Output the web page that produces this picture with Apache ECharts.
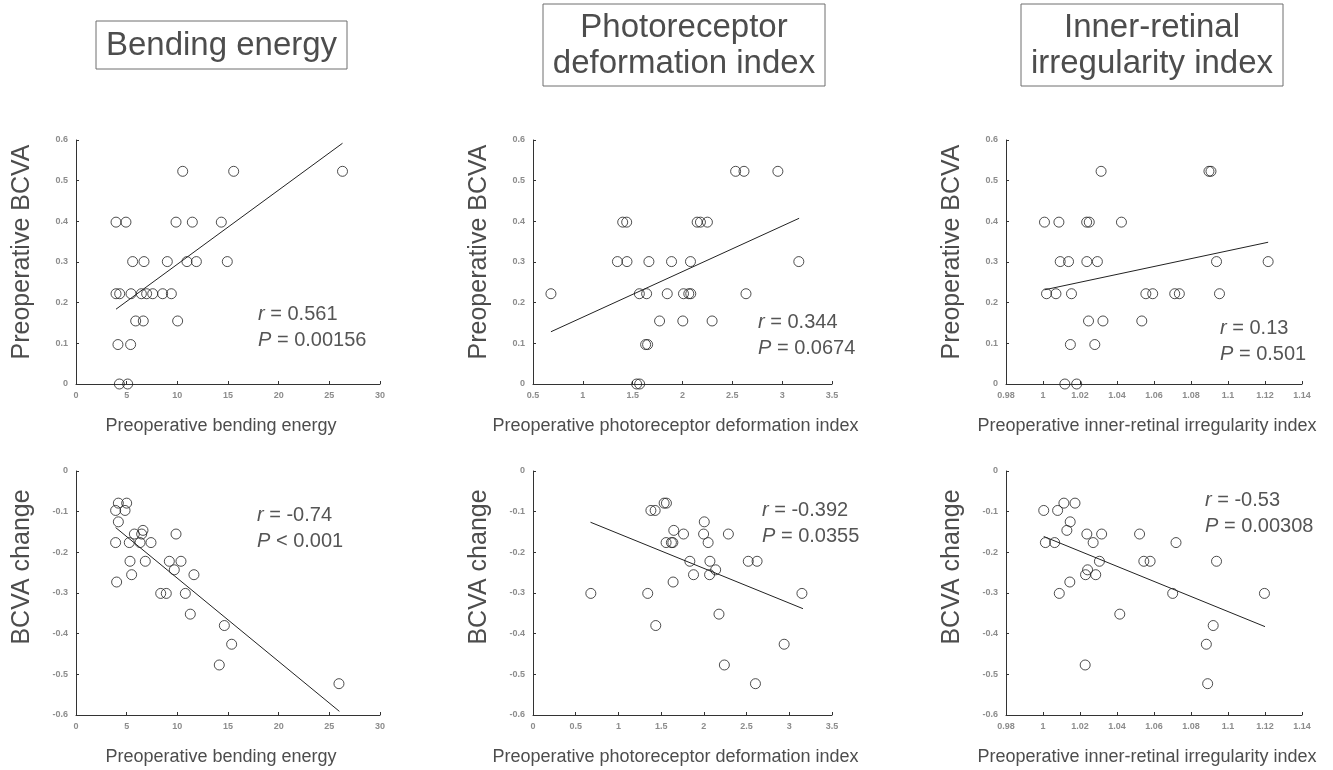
<!DOCTYPE html>
<html>
<head>
<meta charset="utf-8">
<title>BCVA correlations</title>
<script src="https://cdn.jsdelivr.net/npm/echarts@6/dist/echarts.min.js"></script>
<style>
  html, body { margin: 0; padding: 0; background: #fff; }
  #main { width: 1333px; height: 770px; }
</style>
</head>
<body>
<div id="main"></div>
<script>
// ---- data ----
// top row: preoperative BCVA, bottom row: BCVA change
var bendPre = [[10.53,0.523],[15.56,0.523],[26.3,0.523],
  [3.95,0.398],[4.93,0.398],[9.87,0.398],[11.48,0.398],[14.34,0.398],
  [5.59,0.301],[6.71,0.301],[9.01,0.301],[10.95,0.301],[11.88,0.301],[14.93,0.301],
  [3.95,0.222],[4.31,0.222],[5.43,0.222],[6.45,0.222],[6.97,0.222],[7.57,0.222],[8.55,0.222],[9.41,0.222],
  [5.89,0.155],[6.64,0.155],[10.03,0.155],
  [4.14,0.097],[5.39,0.097],
  [4.28,0],[5.10,0]];
var photoPre = [[2.533,0.523],[2.617,0.523],[2.957,0.523],
  [1.40,0.398],[1.44,0.398],[2.147,0.398],[2.18,0.398],[2.25,0.398],
  [1.347,0.301],[1.443,0.301],[1.663,0.301],[1.89,0.301],[2.08,0.301],[3.167,0.301],
  [0.68,0.222],[1.567,0.222],[1.64,0.222],[1.847,0.222],[2.01,0.222],[2.063,0.222],[2.083,0.222],[2.637,0.222],
  [1.77,0.155],[2.003,0.155],[2.297,0.155],
  [1.63,0.097],[1.65,0.097],
  [1.54,0],[1.57,0]];
var innerPre = [[1.0314,0.523],[1.0897,0.523],[1.0908,0.523],
  [1.0008,0.398],[1.0086,0.398],[1.0236,0.398],[1.025,0.398],[1.0424,0.398],
  [1.0093,0.301],[1.0138,0.301],[1.0237,0.301],[1.0294,0.301],[1.0938,0.301],[1.1217,0.301],
  [1.0019,0.222],[1.007,0.222],[1.0154,0.222],[1.0556,0.222],[1.0593,0.222],[1.0712,0.222],[1.0737,0.222],[1.0954,0.222],
  [1.0246,0.155],[1.0324,0.155],[1.0534,0.155],
  [1.0148,0.097],[1.028,0.097],
  [1.0118,0],[1.0182,0]];
var bendChange = [[3.91,-0.097],[4.18,-0.079],[5.0,-0.079],[4.84,-0.097],[4.18,-0.125],[3.91,-0.176],
  [5.26,-0.176],[5.76,-0.155],[5.33,-0.222],[5.49,-0.255],[4.01,-0.273],[6.61,-0.146],[6.48,-0.155],
  [6.32,-0.176],[7.4,-0.176],[6.84,-0.222],[9.87,-0.155],[9.21,-0.222],[10.36,-0.222],[9.70,-0.243],
  [11.64,-0.255],[8.36,-0.301],[8.91,-0.301],[10.79,-0.301],[11.28,-0.352],[14.64,-0.380],
  [15.36,-0.426],[14.14,-0.477],[25.95,-0.523]];
var photoChange = [[1.38,-0.097],[1.43,-0.097],[1.535,-0.079],[1.562,-0.079],[2.005,-0.125],[1.648,-0.146],
  [1.762,-0.155],[1.997,-0.155],[2.287,-0.155],[1.558,-0.176],[1.62,-0.176],[1.637,-0.176],[2.05,-0.176],
  [1.836,-0.222],[2.071,-0.222],[2.52,-0.222],[2.623,-0.222],[2.138,-0.243],[1.879,-0.255],[2.067,-0.255],
  [1.64,-0.273],[0.677,-0.301],[1.343,-0.301],[3.148,-0.301],[2.177,-0.352],[1.437,-0.380],
  [2.94,-0.426],[2.24,-0.477],[2.604,-0.523]];
var innerChange = [[1.0004,-0.097],[1.0079,-0.097],[1.0113,-0.079],[1.0173,-0.079],[1.0147,-0.125],[1.0129,-0.146],
  [1.0237,-0.155],[1.0317,-0.155],[1.0522,-0.155],[1.0013,-0.176],[1.0063,-0.176],[1.0271,-0.176],[1.0719,-0.176],
  [1.0305,-0.222],[1.0545,-0.222],[1.0579,-0.222],[1.0938,-0.222],[1.0241,-0.243],[1.023,-0.255],[1.0285,-0.255],
  [1.0145,-0.273],[1.0088,-0.301],[1.0701,-0.301],[1.1197,-0.301],[1.0415,-0.352],[1.092,-0.380],
  [1.0883,-0.426],[1.0228,-0.477],[1.089,-0.523]];

// regression line end points (data units)
var fitBendPre = [[3.95,0.184],[26.3,0.592]];
var fitPhotoPre = [[0.68,0.1285],[3.17,0.4075]];
var fitInnerPre = [[1.0008,0.2316],[1.1217,0.3486]];
var fitBendChange = [[3.91,-0.139],[25.99,-0.591]];
var fitPhotoChange = [[0.673,-0.126],[3.16,-0.3385]];
var fitInnerChange = [[1.0004,-0.161],[1.120,-0.3827]];

var rValues = ["0.561", "0.344", "0.13", "-0.74", "-0.392", "-0.53"];
var pValues = ["= 0.00156", "= 0.0674", "= 0.501", "< 0.001", "= 0.0355", "= 0.00308"];

var columnTitles = ["Bending energy", "Photoreceptor\ndeformation index", "Inner-retinal\nirregularity index"];
var xNames = ["Preoperative bending energy", "Preoperative photoreceptor deformation index", "Preoperative inner-retinal irregularity index"];
var yNames = ["Preoperative BCVA", "BCVA change"];

// axis ranges [min, max, interval]
var xRanges = [[0, 30, 5], [0.5, 3.5, 0.5], [0.98, 1.14, 0.02], [0, 30, 5], [0, 3.5, 0.5], [0.98, 1.14, 0.02]];
var yRanges = [[0, 0.6, 0.1], [-0.6, 0, 0.1]];

var scatterData = [bendPre, photoPre, innerPre, bendChange, photoChange, innerChange];
var fitData = [fitBendPre, fitPhotoPre, fitInnerPre, fitBendChange, fitPhotoChange, fitInnerChange];

// layout
var FONT = "'Liberation Sans', Arial, sans-serif";
var colLeft = [76, 533, 1006];
var colWidth = [304, 299, 296];
var rowTop = [140, 471];
var plotH = 244;
var statPos = [[258, 313], [758, 321], [1220, 327], [257, 514], [762, 509], [1205, 499]];
var titleBox = [[96, 21, 251, 48], [543, 4, 282, 82], [1021, 4, 262, 82]];

var myChart = echarts.init(document.getElementById("main"), null, { renderer: "canvas" });

var grids = [], xAxes = [], yAxes = [], series = [], graphics = [];

for (var i = 0; i < 6; i++) {
    var col = i % 3, row = Math.floor(i / 3);
    grids.push({ left: colLeft[col], top: rowTop[row], width: colWidth[col], height: plotH });

    var axisBase = {
        type: "value",
        gridIndex: i,
        splitLine: { show: false },
        axisLine: { show: true, onZero: false, lineStyle: { color: "#333", width: 1 } },
        axisTick: { show: true, inside: true, length: 3, lineStyle: { color: "#333" } },
        axisLabel: { fontSize: 9, fontWeight: "bold", color: "#8c8c8c", fontFamily: FONT,
                     showMinLabel: true, showMaxLabel: true }
    };
    var xa = echarts.util.merge({}, axisBase, true);
    xa.min = xRanges[i][0]; xa.max = xRanges[i][1]; xa.interval = xRanges[i][2];
    xa.axisLabel.margin = 7;
    xAxes.push(xa);

    var ya = echarts.util.merge({}, axisBase, true);
    ya.min = yRanges[row][0]; ya.max = yRanges[row][1]; ya.interval = yRanges[row][2];
    ya.axisLabel.margin = 8;
    yAxes.push(ya);

    series.push({
        type: "line",
        xAxisIndex: i, yAxisIndex: i,
        data: fitData[i],
        symbol: "none",
        silent: true,
        lineStyle: { color: "#222", width: 1 },
        z: 1
    });
    series.push({
        type: "scatter",
        xAxisIndex: i, yAxisIndex: i,
        data: scatterData[i],
        symbol: "circle",
        symbolSize: 10,
        itemStyle: { color: "rgba(255,255,255,0)", borderColor: "#222", borderWidth: 1 },
        z: 2
    });

    // r / P annotation
    graphics.push({
        type: "text", left: statPos[i][0], top: statPos[i][1] - 12,
        style: {
            text: "{i|r} = " + rValues[i] + "\n{i|P} " + pValues[i],
            font: "20px " + FONT, fill: "#555", lineHeight: 26,
            rich: { i: { fontStyle: "italic", fontSize: 20, fontFamily: FONT, fill: "#555" } }
        }
    });
}

// column titles in boxes
for (var c = 0; c < 3; c++) {
    var b = titleBox[c];
    graphics.push({ type: "rect", shape: { x: b[0], y: b[1], width: b[2], height: b[3] },
        style: { fill: "#fff", stroke: "#6e6e6e", lineWidth: 1 } });
    graphics.push({ type: "text", x: b[0] + b[2] / 2, y: b[1] + b[3] / 2 + 1,
        style: { text: columnTitles[c], font: "33px " + FONT, fill: "#4d4d4d",
                 align: "center", verticalAlign: "middle", lineHeight: 36 } });
    // x axis names, top and bottom rows
    graphics.push({ type: "text", x: colLeft[c] + colWidth[c] / 2 - 7, y: 426,
        style: { text: xNames[c], font: "18px " + FONT, fill: "#4d4d4d", align: "center", verticalAlign: "middle" } });
    graphics.push({ type: "text", x: colLeft[c] + colWidth[c] / 2 - 7, y: 757,
        style: { text: xNames[c], font: "18px " + FONT, fill: "#4d4d4d", align: "center", verticalAlign: "middle" } });
    // y axis names
    graphics.push({ type: "text", x: colLeft[c] - 54, y: 252, rotation: Math.PI / 2,
        style: { text: yNames[0], font: "25px " + FONT, fill: "#4d4d4d", align: "center", verticalAlign: "middle" } });
    graphics.push({ type: "text", x: colLeft[c] - 54, y: 567, rotation: Math.PI / 2,
        style: { text: yNames[1], font: "25px " + FONT, fill: "#4d4d4d", align: "center", verticalAlign: "middle" } });
}

var option = {
    animation: false,
    backgroundColor: "#fff",
    grid: grids,
    xAxis: xAxes,
    yAxis: yAxes,
    series: series,
    graphic: graphics
};

myChart.setOption(option);
window.addEventListener("resize", function () {
    myChart.resize();
});
</script>
</body>
</html>
